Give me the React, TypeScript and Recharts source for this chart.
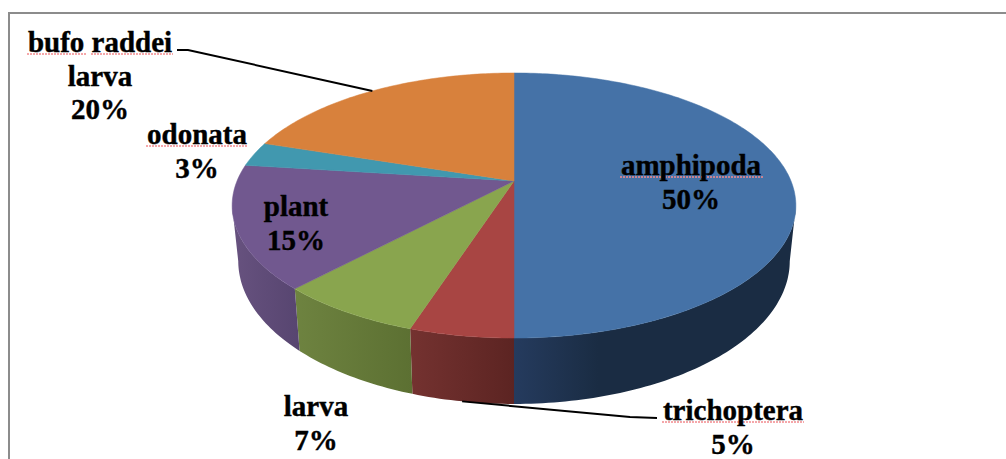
import React from 'react';
import { PieChart, Pie } from 'recharts';

const categories = ['amphipoda', 'trichoptera', 'larva', 'plant', 'odonata', 'bufo raddei larva'];
const shares = [50, 5, 7, 15, 3, 20];
const topColors = ['#4572A7', '#A84543', '#89A54E', '#71588F', '#4198AF', '#D8813C'];
const wallLeftColors = ['#253b5e', '#743230', '#6e8340', '#67527f', '#2f7080', '#9c5e2b'];
const wallRightColors = ['#1a2c43', '#5c2422', '#5c7032', '#574570', '#2a6373', '#8a5226'];
const wallFade = [30, 100, 100, 100, 100, 100];

const data = categories.map((name, i) => ({ name, value: shares[i], fill: topColors[i] }));

// text blocks: centre x, first baseline, wrapped lines, squiggle spans under the first line
const labelBlocks: Record<string, any> = {
  amphipoda: { x: 691, y: 175, lines: ['amphipoda'], squiggles: [[620, 764]] },
  trichoptera: { x: 733, y: 420, lines: ['trichoptera'], squiggles: [[662, 804]], leader: [[630, 417], [657, 418]], onBase: true },
  larva: { x: 316, y: 416, lines: ['larva'], squiggles: [] },
  plant: { x: 296, y: 216, lines: ['plant'], squiggles: [] },
  odonata: { x: 197, y: 144, lines: ['odonata'], squiggles: [[146, 248]] },
  'bufo raddei larva': { x: 100, y: 52, lines: ['bufo raddei', 'larva'], squiggles: [[27, 86], [91, 173]], leader: [[188, 50], [177, 50]] },
};

const CX = 514;
const CY = 181;
const RADIUS = 277;
const TILT = 0.185; // perspective of the tilted disc
const SQUASH = 128 / 277;
const BASE_SCALE = 271 / 277;
const BASE_SQUASH = 138 / 277;
const BASE_DROP = 53.6;
const RAD = Math.PI / 180;

// a: recharts angle in degrees, projected onto the top or the base of the disc
const project = (a: number, cx: number, cy: number, r: number, base = false) => {
  const u = Math.cos(a * RAD);
  const v = -Math.sin(a * RAD);
  const w = 1 - TILT * v;
  if (base) {
    return [cx + (r * BASE_SCALE * u) / w, cy + BASE_DROP + (r * BASE_SQUASH * v) / w];
  }
  return [cx + (r * u) / w, cy + (r * SQUASH * v) / w];
};

const arcPoints = (from: number, to: number, cx: number, cy: number, r: number, base = false) => {
  const steps = Math.max(2, Math.ceil(Math.abs(from - to)));
  const pts = [];
  for (let i = 0; i <= steps; i++) {
    pts.push(project(from + ((to - from) * i) / steps, cx, cy, r, base));
  }
  return pts;
};

const toPath = (pts: number[][]) => pts.map((p, i) => `${i ? 'L' : 'M'}${p[0].toFixed(2)},${p[1].toFixed(2)}`).join(' ') + ' Z';

const TopFace = (props: any) => {
  const { cx, cy, outerRadius, startAngle, endAngle, fill } = props;
  const pts = [[cx, cy], ...arcPoints(startAngle, endAngle, cx, cy, outerRadius)];
  return <path d={toPath(pts)} fill={fill} stroke={fill} strokeWidth={0.5} />;
};

// only the front of the disc shows a wall, between the two silhouette angles
const WALL_FROM = -10.7;
const WALL_TO = -169.3;

const WallFace = (props: any) => {
  const { cx, cy, outerRadius, startAngle, endAngle, index } = props;
  const from = Math.min(startAngle, WALL_FROM);
  const to = Math.max(endAngle, WALL_TO);
  if (from <= to) return null;
  const pts = [...arcPoints(from, to, cx, cy, outerRadius), ...arcPoints(to, from, cx, cy, outerRadius, true)];
  const id = `wall-${index}`;
  return (
    <g>
      <defs>
        <linearGradient id={id} x1="0" y1="0" x2="1" y2="0">
          <stop offset="0%" stopColor={wallLeftColors[index]} />
          <stop offset={`${wallFade[index]}%`} stopColor={wallRightColors[index]} />
        </linearGradient>
      </defs>
      <path d={toPath(pts)} fill={`url(#${id})`} />
    </g>
  );
};

const SliceLabel = (props: any) => {
  const { cx, cy, midAngle, outerRadius, name, value } = props;
  const block = labelBlocks[name];
  const lines = [...block.lines, `${value}%`];
  let leader = null;
  if (block.leader) {
    const rim = project(midAngle, cx, cy, outerRadius, !!block.onBase);
    const pts = [rim, ...block.leader].map((p: number[]) => p.join(',')).join(' ');
    leader = <polyline points={pts} fill="none" stroke="#000" strokeWidth={2} />;
  }
  return (
    <g>
      {leader}
      {block.squiggles.map((s: number[], i: number) => (
        <line
          key={i}
          x1={s[0]}
          x2={s[1]}
          y1={block.y + 2}
          y2={block.y + 2}
          stroke="#f28b8f"
          strokeWidth={1.5}
          strokeDasharray="2 1"
        />
      ))}
      {lines.map((line: string, i: number) => (
        <text
          key={i}
          x={block.x}
          y={block.y + i * 33.5}
          textAnchor="middle"
          fontFamily="'Liberation Serif', serif"
          fontWeight="bold"
          fontSize={29}
          fill="#000"
          stroke="#000"
          strokeWidth={0.4}
        >
          {line}
        </text>
      ))}
    </g>
  );
};

export default function App() {
  return (
    <div style={{ position: 'absolute', left: 0, top: 0, width: 1006, height: 459, background: '#fff', overflow: 'hidden' }}>
      <div style={{ position: 'absolute', left: 8, top: 12, width: 1010, height: 460, border: '2px solid #8c8c8c', boxSizing: 'border-box' }} />
      <div style={{ position: 'absolute', left: 0, top: 0 }}>
        <PieChart width={1006} height={459} margin={{ top: 0, right: 0, bottom: 0, left: 0 }}>
          <Pie
            data={data}
            dataKey="value"
            nameKey="name"
            cx={CX}
            cy={CY}
            outerRadius={RADIUS}
            startAngle={90}
            endAngle={-270}
            shape={WallFace}
            stroke="none"
            isAnimationActive={false}
          />
          <Pie
            data={data}
            dataKey="value"
            nameKey="name"
            cx={CX}
            cy={CY}
            outerRadius={RADIUS}
            startAngle={90}
            endAngle={-270}
            shape={TopFace}
            stroke="none"
            label={SliceLabel}
            labelLine={false}
            isAnimationActive={false}
          />
        </PieChart>
      </div>
    </div>
  );
}
